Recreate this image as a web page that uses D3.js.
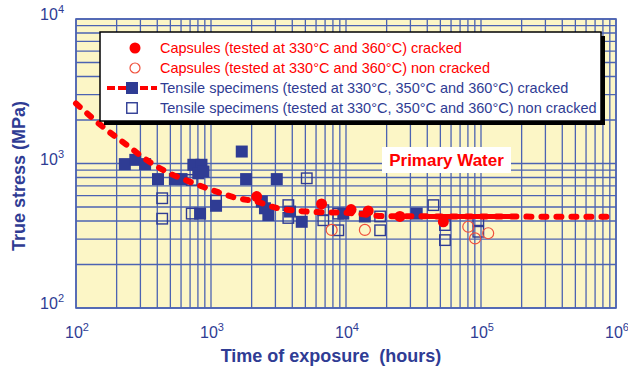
<!DOCTYPE html>
<html>
<head>
<meta charset="utf-8">
<script src="https://cdn.jsdelivr.net/npm/d3@7"></script>
<style>
  body { margin: 0; background: #fff; }
  svg { display: block; font-family: "Liberation Sans", Arial, sans-serif; }
</style>
</head>
<body>
<div id="chart"></div>
<script>
// time (hours), true stress (MPa)
const capsulesCracked = [[2180, 590], [6590, 525], [10900, 480], [14600, 470], [25100, 430], [52600, 395]];
const capsulesNonCracked = [[7830, 347], [13800, 347], [80500, 365], [90400, 303], [113000, 329]];
const tensileCracked = [
  [230, 990], [275, 1060], [325, 990], [405, 780], [540, 780], [605, 780],
  [740, 980], [850, 980], [805, 855], [880, 880], [1090, 510], [830, 450],
  [1690, 1210], [1820, 780], [3070, 780], [2380, 545], [2510, 490], [2660, 440],
  [3850, 465], [4700, 395], [9550, 450], [13800, 430], [33400, 450]
];
const tensileNonCracked = [
  [435, 575], [435, 415], [720, 450], [720, 770], [1090, 555], [5120, 790],
  [3740, 515], [3740, 420], [6790, 475], [6790, 405], [8770, 450], [8770, 345],
  [17900, 430], [17900, 345], [44400, 515], [54100, 375], [54100, 295],
  [95500, 405], [95500, 337]
];
const fitCurve = [
  [100, 2600], [169, 1706], [238, 1343], [334, 1057], [441, 902], [736, 733],
  [1100, 638], [1550, 577], [2180, 544], [3070, 492], [5410, 464], [10700, 454],
  [20000, 432], [1000000, 428]
];
const fitSolidPart = [[37500, 430], [172000, 430]];
const xDecades = [2, 3, 4, 5, 6];
const yDecades = [2, 3, 4];
const legendLabels = [
  "Capsules (tested at 330°C and 360°C) cracked",
  "Capsules (tested at 330°C and 360°C) non cracked",
  "Tensile specimens (tested at 330°C, 350°C and 360°C) cracked",
  "Tensile specimens (tested at 330°C, 350°C and 360°C) non cracked"
];
const annotation = "Primary Water";
const xTitle = "Time of exposure\u00a0 (hours)";
const yTitle = "True stress (MPa)";

const W = 628, H = 378;
const red = "#ff0000", navy = "#2f3c94", gridCol = "#4c63b2";

const svg = d3.select("#chart").append("svg")
  .attr("width", W).attr("height", H);

const x = d3.scaleLog().domain([1e2, 1e6]).range([76, 616]);
const y = d3.scaleLog().domain([1e2, 1e4]).range([308, 19]);

// plot background
svg.append("rect")
  .attr("x", x(1e2)).attr("y", y(1e4))
  .attr("width", x(1e6) - x(1e2)).attr("height", y(1e2) - y(1e4))
  .attr("fill", "#fcf6c6");

// grid (log minor lines)
const grid = svg.append("g").attr("stroke", gridCol).attr("stroke-width", 1.3);
grid.selectAll(".vx").data(x.ticks()).join("line")
  .attr("x1", d => x(d)).attr("x2", d => x(d))
  .attr("y1", y(1e4)).attr("y2", y(1e2));
grid.selectAll(".hy").data(y.ticks()).join("line")
  .attr("y1", d => y(d)).attr("y2", d => y(d))
  .attr("x1", x(1e2)).attr("x2", x(1e6));
svg.append("rect")
  .attr("x", x(1e2)).attr("y", y(1e4))
  .attr("width", x(1e6) - x(1e2)).attr("height", y(1e2) - y(1e4))
  .attr("fill", "none").attr("stroke", gridCol).attr("stroke-width", 1.6);

// tick labels 10^k
const xl = svg.append("g").attr("fill", navy).attr("font-size", 16);
xDecades.forEach(k => {
  const t = xl.append("text").attr("x", x(Math.pow(10, k)) + 1).attr("y", 338)
    .attr("text-anchor", "middle");
  t.append("tspan").text("10");
  t.append("tspan").attr("dy", -7).attr("font-size", 11).text(k);
});
yDecades.forEach(k => {
  const t = xl.append("text").attr("x", 64).attr("y", y(Math.pow(10, k)) + 1)
    .attr("text-anchor", "end");
  t.append("tspan").text("10");
  t.append("tspan").attr("dy", -7).attr("font-size", 11).text(k);
});

// axis titles
svg.append("text")
  .attr("x", 331).attr("y", 362)
  .attr("text-anchor", "middle").attr("font-weight", "bold")
  .attr("font-size", 18).attr("fill", navy)
  .text(xTitle);
svg.append("text")
  .attr("transform", "translate(25,176) rotate(-90)")
  .attr("text-anchor", "middle").attr("font-weight", "bold")
  .attr("font-size", 18).attr("fill", navy)
  .text(yTitle);

const line = d3.line().x(d => x(d[0])).y(d => y(d[1])).curve(d3.curveMonotoneX);
const sq = 12, sqo = 10.5;

// hollow tensile squares
svg.append("g").selectAll("rect").data(tensileNonCracked).join("rect")
  .attr("x", d => x(d[0]) - sqo / 2).attr("y", d => y(d[1]) - sqo / 2)
  .attr("width", sqo).attr("height", sqo)
  .attr("fill", "none").attr("stroke", navy).attr("stroke-width", 1.4);

// filled tensile squares
svg.append("g").selectAll("rect").data(tensileCracked).join("rect")
  .attr("x", d => x(d[0]) - sq / 2).attr("y", d => y(d[1]) - sq / 2)
  .attr("width", sq).attr("height", sq)
  .attr("fill", navy);

// fit curve
svg.append("path").datum(fitCurve)
  .attr("d", line)
  .attr("fill", "none").attr("stroke", red)
  .attr("stroke-width", 6).attr("stroke-linecap", "round")
  .attr("stroke-dasharray", "5,10");
svg.append("path").datum(fitSolidPart)
  .attr("d", line)
  .attr("fill", "none").attr("stroke", red).attr("stroke-width", 5);

// capsules
svg.append("g").selectAll("circle").data(capsulesCracked).join("circle")
  .attr("cx", d => x(d[0])).attr("cy", d => y(d[1])).attr("r", 5.5)
  .attr("fill", red);
svg.append("g").selectAll("circle").data(capsulesNonCracked).join("circle")
  .attr("cx", d => x(d[0])).attr("cy", d => y(d[1])).attr("r", 5.5)
  .attr("fill", "none").attr("stroke", "#f0503c").attr("stroke-width", 1.2);

// annotation
const ann = svg.append("g");
ann.append("rect").attr("x", 382).attr("y", 147).attr("width", 129).attr("height", 26)
  .attr("fill", "#fff");
ann.append("text").attr("x", 446.5).attr("y", 166)
  .attr("text-anchor", "middle").attr("font-weight", "bold")
  .attr("font-size", 17).attr("fill", red).text(annotation);

// legend
const lg = svg.append("g");
lg.append("rect").attr("x", 104).attr("y", 36).attr("width", 501).attr("height", 89)
  .attr("fill", "#000");
lg.append("rect").attr("x", 100).attr("y", 32).attr("width", 501).attr("height", 89)
  .attr("fill", "#fff").attr("stroke", "#000").attr("stroke-width", 1.5);
const rowY = i => 48 + i * 20;
lg.append("circle").attr("cx", 135).attr("cy", rowY(0)).attr("r", 5.5).attr("fill", red);
lg.append("circle").attr("cx", 135).attr("cy", rowY(1)).attr("r", 5)
  .attr("fill", "none").attr("stroke", "#f0503c").attr("stroke-width", 1.2);
lg.append("line").attr("x1", 107).attr("x2", 157).attr("y1", rowY(2)).attr("y2", rowY(2))
  .attr("stroke", red).attr("stroke-width", 4).attr("stroke-dasharray", "8,3");
lg.append("rect").attr("x", 132 - sq / 2).attr("y", rowY(2) - sq / 2)
  .attr("width", sq).attr("height", sq).attr("fill", navy);
lg.append("rect").attr("x", 132 - sqo / 2).attr("y", rowY(3) - sqo / 2)
  .attr("width", sqo).attr("height", sqo)
  .attr("fill", "none").attr("stroke", navy).attr("stroke-width", 1.4);
lg.selectAll("text.lab").data(legendLabels).join("text")
  .attr("x", 160).attr("y", (d, i) => rowY(i) + 5)
  .attr("font-size", 14.5)
  .attr("fill", (d, i) => i < 2 ? red : navy)
  .text(d => d);
</script>
</body>
</html>
